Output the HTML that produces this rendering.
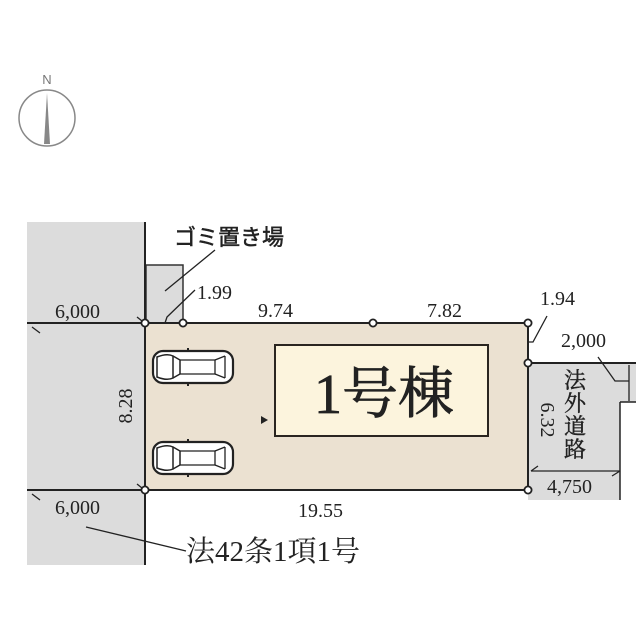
<!DOCTYPE html>
<html><head><meta charset="utf-8"><style>
html,body{margin:0;padding:0;background:#fff;}
svg{display:block;}
text{font-family:"Liberation Serif","Noto Serif CJK SC",serif;fill:#222;}
.j{font-family:"Liberation Sans","Noto Sans CJK JP",sans-serif;}
</style></head><body>
<svg width="640" height="640" viewBox="0 0 640 640" xmlns="http://www.w3.org/2000/svg">
<defs>
<g id="car">
<rect x="0" y="0" width="80" height="32" rx="10" fill="#fff" stroke="#222" stroke-width="2.2"/>
<path d="M4 6 Q14 2 20 5 L20 27 Q14 30 4 26 Z" fill="#fff" stroke="#222" stroke-width="1.5"/>
<path d="M20 5 L27 9 L27 23 L20 27" fill="none" stroke="#222" stroke-width="1.5"/>
<path d="M27 9 L62 9 L62 23 L27 23" fill="none" stroke="#222" stroke-width="1.3"/>
<path d="M62 9 L72 5 M62 23 L72 27 M72 5 L72 27" fill="none" stroke="#222" stroke-width="1.3"/>
<line x1="35" y1="0" x2="35" y2="-3" stroke="#222" stroke-width="2"/>
<line x1="35" y1="32" x2="35" y2="35" stroke="#222" stroke-width="2"/>
</g>
</defs>
<text x="47" y="84" class="j" font-size="13" text-anchor="middle" style="fill:#777">N</text>
<circle cx="47" cy="118" r="28" fill="none" stroke="#888" stroke-width="1.5"/>
<path d="M47 93 L44 144 L50 144 Z" fill="#888"/>
<rect x="27" y="222" width="118" height="343" fill="#dcdcdc"/>
<rect x="146" y="265" width="37" height="58" fill="#dcdcdc" stroke="#333" stroke-width="1.5"/>
<path d="M528 363 L636 363 L636 402 L620 402 L620 500 L528 500 Z" fill="#dcdcdc"/>
<line x1="528" y1="363" x2="636" y2="363" stroke="#222" stroke-width="2"/>
<line x1="620" y1="402" x2="620" y2="500" stroke="#222" stroke-width="1.5"/>
<line x1="620" y1="402" x2="636" y2="402" stroke="#222" stroke-width="1.5"/>
<line x1="629" y1="365" x2="629" y2="401" stroke="#222" stroke-width="1.3"/>
<rect x="145" y="323" width="383" height="167" fill="#ebe1d1"/>
<line x1="145" y1="222" x2="145" y2="565" stroke="#222" stroke-width="2"/>
<line x1="27" y1="323" x2="528" y2="323" stroke="#222" stroke-width="2"/>
<line x1="27" y1="490" x2="528" y2="490" stroke="#222" stroke-width="2"/>
<line x1="528" y1="323" x2="528" y2="490" stroke="#222" stroke-width="2"/>
<rect x="275" y="345" width="213" height="91" fill="#fcf4dd" stroke="#2a2520" stroke-width="2"/>
<text x="384" y="413" font-size="56" text-anchor="middle" stroke="#222" stroke-width="0.8">1号棟</text>
<path d="M261 416 L268 420 L261 424 Z" fill="#222"/>
<use href="#car" x="153" y="351"/>
<use href="#car" x="153" y="442"/>
<g fill="#fff" stroke="#222" stroke-width="1.8">
<circle cx="145" cy="323" r="3.6"/><circle cx="183" cy="323" r="3.6"/><circle cx="373" cy="323" r="3.6"/>
<circle cx="528" cy="323" r="3.6"/><circle cx="528" cy="363" r="3.6"/><circle cx="528" cy="490" r="3.6"/>
<circle cx="145" cy="490" r="3.6"/>
</g>
<g stroke="#222" stroke-width="1.3" fill="none">
<path d="M32 327 L40 333 M137 317 L142 321"/>
<path d="M32 494 L40 500 M137 484 L142 488"/>
<path d="M165 291 L215 250"/>
<path d="M165 323 L167 317 L195 290"/>
<path d="M528 342 L533 342 L547 316"/>
<path d="M629 381 L615 381 L598 357"/>
<path d="M531 471 L620 471 M531 471 L538 466 M620 471 L612 476"/>
<path d="M86 527 L186 551"/>
</g>
<g font-size="20">
<text x="55" y="318">6,000</text>
<text x="55" y="514">6,000</text>
<text x="197" y="299">1.99</text>
<text x="258" y="317">9.74</text>
<text x="427" y="317">7.82</text>
<text x="540" y="305">1.94</text>
<text x="561" y="347">2,000</text>
<text x="547" y="493">4,750</text>
<text x="298" y="517">19.55</text>
<text transform="translate(132 406) rotate(-90)" text-anchor="middle">8.28</text>
<text transform="translate(541 420) rotate(90)" text-anchor="middle">6.32</text>
</g>
<text x="174" y="245" class="j" font-size="22" stroke="#222" stroke-width="0.5">ゴミ置き場</text>
<g font-size="22" text-anchor="middle" stroke="#222" stroke-width="0.4">
<text x="575" y="388">法</text><text x="575" y="411">外</text><text x="575" y="434">道</text><text x="575" y="457">路</text>
</g>
<text x="186" y="561" font-size="29">法42条1項1号</text>
</svg>
</body></html>
